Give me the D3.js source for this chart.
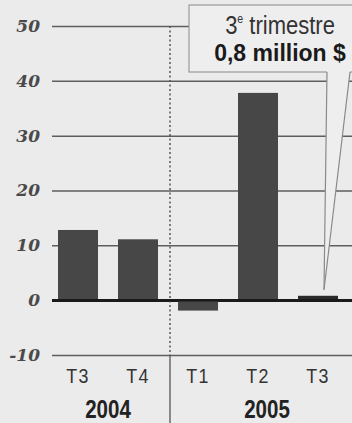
<!DOCTYPE html>
<html>
<head>
<meta charset="utf-8">
<script src="https://cdn.jsdelivr.net/npm/d3@7"></script>
<style>
  html, body { margin: 0; padding: 0; background: #ebebeb; }
  svg { display: block; }
</style>
</head>
<body>
<script>
// Quarterly results, millions of dollars
const quarters = ["T3 2004", "T4 2004", "T1 2005", "T2 2005", "T3 2005"];
const quarterLabels = ["T3", "T4", "T1", "T2", "T3"];
const values = [12.8, 11.1, -1.9, 37.8, 0.8];
const years = ["2004", "2005"];
const yTicks = [-10, 0, 10, 20, 30, 40, 50];

const W = 352, H = 423;

const svg = d3.select("body").append("svg")
  .attr("width", W).attr("height", H);

svg.append("rect").attr("width", W).attr("height", H).attr("fill", "#ebebeb");

const y = d3.scaleLinear().domain([-10, 50]).range([355, 26]);
const x = d3.scaleBand().domain(quarters).range([48, 348])
  .paddingInner(1 / 3).paddingOuter(1 / 6);

// Horizontal grid with italic serif values on the left
const gridLeft = 52;
const yAxis = svg.append("g")
  .attr("transform", `translate(${gridLeft},0)`)
  .call(d3.axisLeft(y).tickValues(yTicks).tickSize(-(W - gridLeft)).tickPadding(12)
    .tickFormat(d => String(d)));
yAxis.select(".domain").remove();
yAxis.selectAll(".tick line")
  .attr("stroke", d => d === 0 ? "#1a1a1a" : "#5e5e5e")
  .attr("stroke-width", d => d === 0 ? 2.5 : 1.5);
yAxis.selectAll(".tick text")
  .attr("font-family", "'DejaVu Serif', serif")
  .attr("font-style", "italic")
  .attr("font-weight", "bold")
  .attr("font-size", 17)
  .attr("fill", "#4a4a4a");

// Divider between the two years
const divX = x(quarters[2]) - 8;
svg.append("line")
  .attr("x1", divX).attr("x2", divX)
  .attr("y1", y(50)).attr("y2", y(-10))
  .attr("stroke", "#555").attr("stroke-width", 1.5)
  .attr("stroke-dasharray", "2,2.5");
svg.append("line")
  .attr("x1", divX).attr("x2", divX)
  .attr("y1", y(-10)).attr("y2", H)
  .attr("stroke", "#555").attr("stroke-width", 1.3);

// Bars
svg.append("g").selectAll("rect")
  .data(values)
  .join("rect")
  .attr("x", (d, i) => x(quarters[i]))
  .attr("width", x.bandwidth())
  .attr("y", d => y(Math.max(0, d)))
  .attr("height", d => Math.abs(y(d) - y(0)))
  .attr("fill", (d, i) => i === 4 ? "#2a2a2a" : "#474747");

// Zero line drawn over the bars
svg.append("line")
  .attr("x1", gridLeft).attr("x2", W)
  .attr("y1", y(0)).attr("y2", y(0))
  .attr("stroke", "#1a1a1a").attr("stroke-width", 2.5);

// Condensed sans text
const sans = "'Liberation Sans', Arial, sans-serif";
function narrowText(parent, cx, cy, sx) {
  return parent.append("g")
    .attr("transform", `translate(${cx},${cy}) scale(${sx},1)`)
    .append("text")
    .attr("text-anchor", "middle")
    .attr("font-family", sans);
}

// Quarter labels
quarterLabels.forEach((lab, i) => {
  narrowText(svg, x(quarters[i]) + x.bandwidth() / 2, 383, 0.85)
    .attr("font-size", 21)
    .attr("letter-spacing", 1.5)
    .attr("fill", "#333")
    .text(lab);
});

// Year labels
const yearX = [
  (x(quarters[0]) + x(quarters[1]) + x.bandwidth()) / 2,
  (divX + W) / 2 + 6
];
years.forEach((yr, i) => {
  narrowText(svg, yearX[i], 418, 0.82)
    .attr("font-weight", "bold")
    .attr("font-size", 25)
    .attr("fill", "#222")
    .text(yr);
});

// Callout for the latest quarter
const callout = svg.append("g");
const boxFill = "#eeeeee";
callout.append("rect")
  .attr("x", 189).attr("y", 5).attr("width", 180).attr("height", 67)
  .attr("fill", boxFill).attr("stroke", "#9a9a9a").attr("stroke-width", 1.2);
const tip = [x(quarters[4]) + x.bandwidth() / 2 + 6, y(values[4]) - 6];
callout.append("polygon")
  .attr("points", `327,71 350,71 ${tip[0]},${tip[1]}`)
  .attr("fill", boxFill);
callout.append("line")
  .attr("x1", 327).attr("y1", 72).attr("x2", tip[0]).attr("y2", tip[1])
  .attr("stroke", "#8a8a8a").attr("stroke-width", 1.2);
callout.append("line")
  .attr("x1", 350).attr("y1", 72).attr("x2", tip[0]).attr("y2", tip[1])
  .attr("stroke", "#8a8a8a").attr("stroke-width", 1.2);

const t1 = narrowText(callout, 280, 34, 0.88)
  .attr("font-size", 25)
  .attr("fill", "#333");
t1.append("tspan").text("3");
t1.append("tspan").attr("font-size", 12).attr("dy", -11).text("e");
t1.append("tspan").attr("dy", 11).text(" trimestre");

narrowText(callout, 280, 61, 1.0)
  .attr("font-weight", "bold")
  .attr("font-size", 23)
  .attr("fill", "#1a1a1a")
  .text(`${d3.format(".1f")(values[4]).replace(".", ",")} million $`);
</script>
</body>
</html>
